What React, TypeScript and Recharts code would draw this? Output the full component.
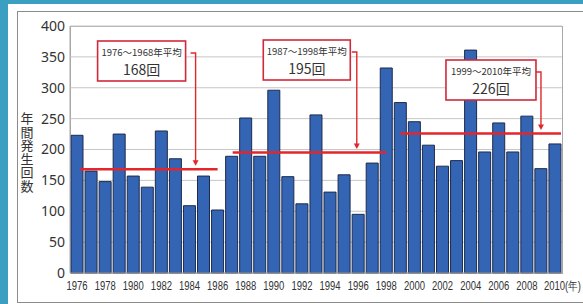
import { BarChart, Bar, XAxis, YAxis, CartesianGrid, ReferenceLine } from 'recharts';

const years = [
  '1976', '1977', '1978', '1979', '1980', '1981', '1982', '1983', '1984', '1985',
  '1986', '1987', '1988', '1989', '1990', '1991', '1992', '1993', '1994', '1995',
  '1996', '1997', '1998', '1999', '2000', '2001', '2002', '2003', '2004', '2005',
  '2006', '2007', '2008', '2009', '2010',
];
const counts = [
  223, 165, 148, 225, 157, 139, 230, 185, 109, 157,
  102, 189, 251, 189, 296, 156, 112, 256, 131, 159,
  95, 178, 332, 276, 245, 207, 173, 182, 361, 196,
  243, 196, 254, 169, 209,
];
const yTicks = [0, 50, 100, 150, 200, 250, 300, 350, 400];

const periodLabels = ['1976～1968年平均', '1987～1998年平均', '1999～2010年平均'];
const periodAverages = [168, 195, 226];
const periodStart = ['1976', '1987', '1999'];
const periodEnd = ['1986', '1998', '2010'];

// callout placement in pixels (box + arrow), relative to each average line
const calloutLayout = [
  { startDx: 3, endDx: 0, arrowDx: -22, boxTop: 41, boxW: 88, boxGap: 10 },
  { startDx: 1, endDx: 0, arrowDx: -29.5, boxTop: 40, boxW: 87, boxGap: 6.5 },
  { startDx: 0, endDx: 6, arrowDx: -14, boxTop: 60, boxW: 90, boxGap: 5 },
];

const data = years.map((year, i) => ({ year, count: counts[i] }));

const RED = '#e3262b';
const CJK = '"Noto Sans CJK JP", "Noto Sans", sans-serif';

function makeCallout(i: number) {
  return (props: any) => {
    const { x1, y1, x2 } = props;
    const L = calloutLayout[i];
    const ax = x2 + L.arrowDx;
    const bx = ax - L.boxGap - L.boxW;
    const ay = L.boxTop + 12;
    return (
      <g>
        <line x1={x1 + L.startDx} x2={x2 + L.endDx} y1={y1} y2={y1} stroke={RED} strokeWidth={2.5} />
        <rect x={bx} y={L.boxTop} width={L.boxW} height={40} fill="#fff" stroke="#d3283a" strokeWidth={1.6} />
        <text x={bx + L.boxW / 2} y={L.boxTop + 15} textAnchor="middle" fontSize={9.5} fill="#333" fontFamily={CJK}>
          {periodLabels[i]}
        </text>
        <text x={bx + L.boxW / 2} y={L.boxTop + 34} textAnchor="middle" fontSize={14} fill="#333" fontFamily={CJK}>
          {periodAverages[i]}回
        </text>
        <polyline
          points={`${ax - 5},${ay} ${ax},${ay} ${ax},${y1 - 8}`}
          fill="none"
          stroke={RED}
          strokeWidth={1.4}
        />
        <polygon points={`${ax - 3},${y1 - 9} ${ax + 3},${y1 - 9} ${ax},${y1 - 3.5}`} fill={RED} />
      </g>
    );
  };
}

// condensed year labels (narrowed horizontally like the original)
function YearTick(props: any) {
  const { x, y, payload } = props;
  const last = payload.value === years[years.length - 1];
  const left = last ? x - 11 : x - 10.5;
  return (
    <text
      transform={`translate(${left},${y + 9}) scale(0.79,1)`}
      x={0}
      y={0}
      fontSize={12}
      fill="#333"
      fontFamily='"Liberation Sans", sans-serif'
    >
      {last ? `${payload.value}(年)` : payload.value}
    </text>
  );
}

function YTitle() {
  return (
    <text
      x={27}
      y={112}
      fontSize={13}
      letterSpacing={0.5}
      fill="#333"
      fontFamily={CJK}
      style={{ writingMode: 'vertical-rl' }}
    >
      年間発生回数
    </text>
  );
}

export default function App() {
  return (
    <div style={{ position: 'fixed', left: 0, top: 0, width: 583, height: 304, background: '#3a9fc0', overflow: 'hidden' }}>
      <div style={{ position: 'absolute', left: 8, top: 4, width: 600, height: 320, background: '#fff' }} />
      <div style={{ position: 'absolute', left: 17, top: 11, width: 600, height: 290, border: '1px solid #8c8c8c' }} />
      <div style={{ position: 'absolute', left: 70, top: 26, width: 491, height: 246, border: '1px solid #a8a8a8' }} />
      <div style={{ position: 'absolute', left: 0, top: 0 }}>
        <BarChart width={583} height={304} data={data} margin={{ top: 26, right: 21, bottom: 11, left: 25 }}>
          <CartesianGrid vertical={false} stroke="#c6c6c6" />
          <XAxis
            dataKey="year"
            interval={1}
            height={20}
            tickLine={false}
            axisLine={{ stroke: '#a8a8a8' }}
            tick={<YearTick />}
          />
          <YAxis
            width={45}
            domain={[0, 400]}
            ticks={yTicks}
            tickLine={false}
            tickSize={3}
            axisLine={{ stroke: '#a8a8a8' }}
            tick={{ fontSize: 14, fill: '#333', fontFamily: '"Noto Sans", sans-serif' }}
          />
          <Bar dataKey="count" fill="#3465b5" stroke="#1d2b4c" strokeWidth={1} barSize={12} isAnimationActive={false} />
          {periodAverages.map((avg, i) => (
            <ReferenceLine
              key={i}
              segment={[
                { x: periodStart[i], y: avg },
                { x: periodEnd[i], y: avg },
              ]}
              shape={makeCallout(i)}
            />
          ))}
          <YTitle />
        </BarChart>
      </div>
    </div>
  );
}
